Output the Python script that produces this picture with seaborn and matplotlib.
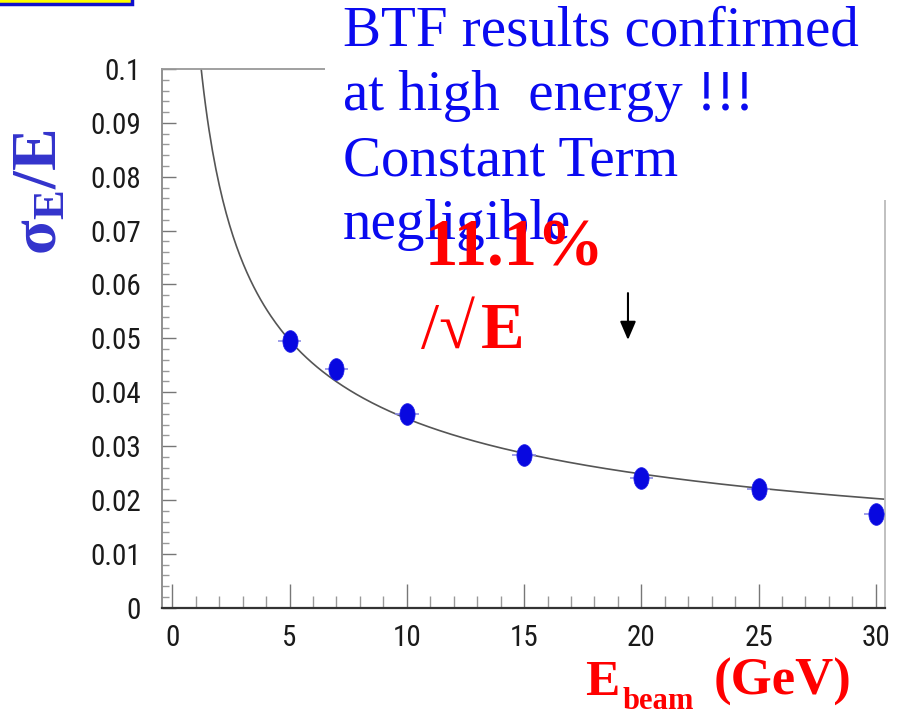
import numpy as np
import matplotlib
matplotlib.use("Agg")
import matplotlib.pyplot as plt
from matplotlib import font_manager
from matplotlib.path import Path
from matplotlib.patches import Rectangle
from matplotlib.ticker import MultipleLocator, FuncFormatter
import seaborn as sns

# ---------------- data ----------------
energy = [5, 7, 10, 15, 20, 25, 30]                                   # GeV
resolution = [0.0496, 0.0444, 0.0360, 0.0284, 0.0241, 0.0220, 0.0174]  # sigma_E / E
energy_err = [0.5, 0.5, 0.5, 0.5, 0.5, 0.5, 0.5]
stochastic_term = 0.111   # fit: 11.1% / sqrt(E)
fit_range = (1.2, 30.4)

x_ticks = [0, 5, 10, 15, 20, 25, 30]
y_ticks = [0, 0.01, 0.02, 0.03, 0.04, 0.05, 0.06, 0.07, 0.08, 0.09, 0.1]

blue_lines = ["BTF results confirmed", "at high  energy !!!", "Constant Term", "negligible"]

# ---------------- style ----------------
sns.set_style("ticks")
plt.rcParams["font.family"] = ["Liberation Serif", "DejaVu Serif"]
plt.rcParams["mathtext.fontset"] = "custom"
plt.rcParams["mathtext.rm"] = "Liberation Serif"
plt.rcParams["mathtext.it"] = "Liberation Serif:italic"
plt.rcParams["mathtext.bf"] = "Liberation Serif:bold"


def pick_font(cands):
    for c in cands:
        try:
            font_manager.findfont(font_manager.FontProperties(family=c),
                                  fallback_to_default=False)
            return c
        except Exception:
            continue
    return "DejaVu Sans"


tick_font = pick_font(["Liberation Sans Narrow", "DejaVu Sans Condensed",
                       "Roboto Condensed", "Liberation Sans"])
narrow = tick_font != "Liberation Sans"

W, H = 900, 711
fig = plt.figure(figsize=(W / 100, H / 100), dpi=100)
fig.patch.set_facecolor("white")


def fx(px):
    return px / W


def fy(py):
    return 1 - py / H


ax = fig.add_axes([fx(161.7), fy(607.7), fx(885) - fx(161.7), fy(69) - fy(607.7)])
ax.set_facecolor("white")

# fit curve
fit_E = np.linspace(fit_range[0], fit_range[1], 400)
fit_sigma = stochastic_term / np.sqrt(fit_E)
sns.lineplot(x=fit_E, y=fit_sigma, ax=ax, color="#555555", lw=1.2, sort=False, zorder=2)

# horizontal error bars
ax.errorbar(energy, resolution, xerr=energy_err, fmt="none", ecolor="#8c8ce6",
            elinewidth=1.2, capsize=0, zorder=3)

# elliptical markers
t = np.linspace(0, 2 * np.pi, 60)
ell = Path(np.column_stack([0.7 * np.cos(t), np.sin(t)]), closed=True)
sns.scatterplot(x=energy, y=resolution, ax=ax, marker=ell, s=245,
                color="#0808e0", edgecolor="#2020e8", linewidth=0.5, zorder=4)

# arrow
ax.annotate("", xy=(19.43, 0.0497), xytext=(19.43, 0.0584),
            arrowprops=dict(arrowstyle="-|>,head_length=0.7,head_width=0.3",
                            color="black", lw=1.5, mutation_scale=16,
                            shrinkA=0, shrinkB=0), zorder=5)

ax.set_xlim(-0.452, 30.39)
ax.set_ylim(0, 0.1)
ax.set_xticks(x_ticks)
ax.set_yticks(y_ticks)
ax.xaxis.set_minor_locator(MultipleLocator(1))
ax.yaxis.set_minor_locator(MultipleLocator(0.002))
ax.yaxis.set_major_formatter(FuncFormatter(lambda v, _: f"{round(v, 3):g}"))
ax.set_xlabel("")
ax.set_ylabel("")

tsize = 21 if narrow else 20
ax.tick_params(axis="x", which="major", direction="in", length=17, width=1.0,
               color="#777777", pad=12, labelsize=tsize, labelcolor="#1a1a1a")
ax.tick_params(axis="x", which="minor", direction="in", length=9, width=1.0,
               color="#999999")
ax.tick_params(axis="y", which="major", direction="in", length=10, width=1.0,
               color="#777777", pad=15, labelsize=tsize, labelcolor="#1a1a1a")
ax.tick_params(axis="y", which="minor", direction="in", length=5, width=1.0,
               color="#999999")
for lab in ax.get_xticklabels() + ax.get_yticklabels():
    lab.set_family([tick_font, "Liberation Sans"])

ax.spines["left"].set_color("#888888")
ax.spines["left"].set_linewidth(1.3)
ax.spines["bottom"].set_color("#333333")
ax.spines["bottom"].set_linewidth(1.6)
ax.spines["top"].set_color("#999999")
ax.spines["top"].set_linewidth(1.3)
ax.spines["right"].set_color("#bbbbbb")
ax.spines["right"].set_linewidth(1.3)

# white text box covering the top right of the frame
fig.add_artist(Rectangle((fx(325), fy(200)), 1, 200 / H, transform=fig.transFigure,
                         facecolor="white", edgecolor="none", zorder=5))
# yellow box fragment at top-left
fig.add_artist(Rectangle((fx(-10), fy(4)), fx(142), 0.05, transform=fig.transFigure,
                         facecolor="#ffff00", edgecolor="#1010cc", lw=2.5,
                         zorder=5, clip_on=False))

# blue annotation text
baselines = [46, 110, 175, 239]
for line, b in zip(blue_lines, baselines):
    fig.text(fx(343), fy(b), line, fontsize=41, color="#0a0af0",
             ha="left", va="baseline", zorder=6)

# red fit result
fig.text(fx(425), fy(265), "11.1%", fontsize=48, weight="bold", color="red",
         ha="left", va="baseline", zorder=7)
fig.text(fx(421), fy(348), "/\u221a", fontsize=47, color="red",
         ha="left", va="baseline", zorder=7)
fig.text(fx(481), fy(348), "E", fontsize=47, weight="bold", color="red",
         ha="left", va="baseline", zorder=7)

# axis titles
fig.text(fx(41), fy(192), r"$\mathbf{\sigma_E/E}$", rotation=90, fontsize=46,
         color="#3333cc", ha="center", va="center", zorder=6)
fig.text(fx(585), fy(695), "E", fontsize=37, weight="bold", color="red",
         ha="left", va="baseline", zorder=6)
fig.text(fx(623), fy(709), "beam", fontsize=22, weight="bold", color="red",
         ha="left", va="baseline", zorder=6)
fig.text(fx(714), fy(695), "(GeV)", fontsize=38, weight="bold", color="red",
         ha="left", va="baseline", zorder=6)

fig.savefig("out.png", dpi=100)
